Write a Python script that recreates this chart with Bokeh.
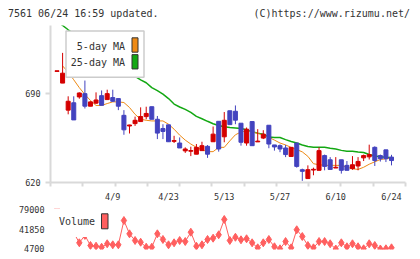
from bokeh.plotting import figure
from bokeh.layouts import column
from bokeh.models import Range1d, FixedTicker, ColumnDataSource, LinearAxis, Grid, Div
from bokeh.core.properties import value
from bokeh.embed import file_html
from bokeh.resources import INLINE

nan = float("nan")

header_left = "7561 06/24 16:59 updated."
header_right = "(C)https://www.rizumu.net/"
tick_index = [10, 20, 30, 40, 50, 60]
tick_labels = ["4/9", "4/23", "5/13", "5/27", "6/10", "6/24"]
price_ticks = [620, 690]
volume_ticks = [4700, 41850, 79000]
legend_labels = ["5-day MA", "25-day MA", "Volume"]

opens = [707.5, 698.3, 677.0, 682.8, 687.4, 690.0, 680.1, 682.5, 688.4, 685.3,
         686.9, 686.1, 672.9, 664.5, 666.4, 668.0, 671.9, 679.7, 669.8, 662.5,
         665.4, 652.4, 651.1, 644.9, 644.6, 642.3, 645.1, 648.5, 652.1, 668.2,
         656.0, 676.5, 676.1, 666.7, 651.1, 668.0, 652.0, 655.0, 665.1, 649.6,
         649.0, 647.2, 640.5, 651.1, 630.1, 623.1, 629.8, 629.6, 641.2, 637.9,
         631.4, 637.9, 633.5, 630.9, 633.0, 639.4, 640.2, 647.7, 641.2, 645.7,
         640.0]
closes = [708.0, 706.1, 684.0, 669.3, 690.5, 680.1, 683.5, 685.0, 680.8, 690.0,
          684.0, 680.1, 661.5, 665.3, 669.0, 672.0, 674.4, 669.8, 658.9, 660.2,
          652.1, 653.0, 647.2, 646.4, 645.2, 647.7, 649.0, 642.3, 658.1, 646.4,
          669.0, 665.6, 669.1, 651.7, 662.0, 649.0, 652.6, 658.1, 650.3, 648.0,
          646.4, 642.0, 647.7, 632.7, 628.8, 630.1, 630.4, 645.1, 632.7, 630.3,
          632.0, 629.6, 629.6, 634.0, 636.6, 641.2, 642.0, 637.3, 638.7, 638.7,
          637.3]
highs = [708.0, 722.1, 687.9, 687.9, 691.0, 700.3, 684.0, 691.0, 692.5, 693.1,
         693.1, 686.1, 677.0, 665.5, 671.9, 679.2, 679.7, 679.7, 672.4, 665.9,
         665.4, 656.8, 655.5, 647.7, 648.2, 650.3, 652.1, 649.5, 664.1, 668.2,
         675.5, 676.5, 680.7, 666.7, 663.3, 668.0, 662.0, 661.2, 665.1, 649.6,
         650.0, 649.6, 647.7, 651.1, 630.9, 633.5, 631.7, 647.7, 642.0, 640.0,
         640.0, 637.9, 636.9, 640.8, 640.0, 642.0, 649.8, 648.5, 642.0, 645.7,
         641.8]
lows = [707.5, 698.3, 673.7, 669.3, 686.0, 678.3, 680.1, 682.0, 680.8, 685.3,
        683.5, 677.0, 657.6, 658.6, 664.6, 668.0, 669.8, 669.8, 654.2, 654.2,
        652.1, 651.1, 647.2, 643.3, 640.8, 642.3, 645.1, 639.4, 652.1, 644.3,
        651.7, 665.6, 665.9, 649.0, 649.0, 649.0, 652.0, 654.2, 647.0, 645.1,
        643.9, 640.0, 640.5, 631.7, 621.3, 623.1, 625.7, 629.6, 629.6, 630.3,
        631.4, 627.0, 629.6, 630.0, 629.6, 636.9, 638.1, 633.0, 636.5, 636.1,
        633.5]
ma5 = [nan, 711.8, 707.0, 700.9, 694.7, 689.3, 684.6, 680.7, 680.7, 682.2,
       683.5, 683.5, 683.0, 679.1, 673.7, 669.8, 669.0, 668.5, 668.5, 668.5,
       665.9, 662.0, 657.3, 653.4, 650.3, 647.7, 645.7, 644.3, 644.3, 647.7,
       647.7, 652.8, 657.6, 659.8, 660.7, 660.0, 658.6, 657.5, 655.6, 653.4,
       651.1, 649.6, 647.6, 646.0, 644.1, 640.6, 634.8, 634.0, 633.5, 633.5,
       633.5, 633.5, 632.0, 630.9, 630.3, 632.0, 634.4, 636.3, 638.1, 638.7,
       639.4]
ma25 = [747.0, 743.7, 740.3, 737.0, 733.6, 730.5, 727.2, 724.0, 720.6, 717.4,
        714.0, 710.8, 708.0, 705.6, 703.6, 700.9, 698.6, 694.7, 692.3, 689.6,
        686.1, 681.8, 679.5, 677.6, 675.2, 672.1, 670.2, 668.2, 666.3, 664.9,
        663.9, 663.3, 663.0, 662.6, 661.6, 659.9, 658.9, 658.1, 655.8, 655.5,
        655.5, 653.8, 652.3, 651.1, 649.6, 648.4, 647.8, 647.8, 647.8, 647.0,
        646.4, 645.3, 644.7, 644.7, 644.1, 643.6, 642.0, 640.8, 640.2, 639.8,
        639.4]
volume = [79000, 62000, 48000, 35000, 16200, 30000, 11200, 9900, 8000, 14400,
          12500, 12500, 57600, 32900, 20500, 17300, 8000, 8000, 32900, 22400,
          12500, 16200, 20500, 18600, 35900, 9900, 12500, 22400, 24800, 31100,
          59500, 20500, 26500, 21800, 23700, 16200, 6900, 16200, 22400, 8800,
          5100, 18600, 6900, 40400, 27900, 11200, 6900, 18600, 18600, 14400,
          4700, 16200, 8800, 14400, 8800, 5100, 14400, 11200, 4700, 5100,
          6900]

RED = "#d40000"
BLUE = "#4343bf"
ORANGE = "#ee8a15"
GREEN = "#13a813"
VOLC = "#ff5f5f"
AXC = "#d9d9d9"
TXT = "#333333"
MONO = "DejaVu Sans Mono"

n = len(closes)
idx = list(range(n))
colors = [RED if c >= o else BLUE for o, c in zip(opens, closes)]
src = ColumnDataSource(dict(
    x=idx, top=[max(o, c) for o, c in zip(opens, closes)],
    bottom=[min(o, c) for o, c in zip(opens, closes)],
    high=highs, low=lows, color=colors, ma5=ma5, ma25=ma25, vol=volume))

XR = Range1d(-1.17, 62.51)
YR = Range1d(620, 743.67)
VR = Range1d(3770, 79930)


def fx(px):
    return XR.start + (px - 50) * (XR.end - XR.start) / 355.0


def fy(py):
    return YR.start + (184 - py) * (YR.end - YR.start) / 159.0


def vy(py):
    return VR.start + (249 - py) * (VR.end - VR.start) / 41.0


def strip(fig):
    fig.center = [c for c in fig.center if not isinstance(c, Grid)]
    fig.outline_line_color = None
    fig.background_fill_color = "white"
    fig.border_fill_color = "white"


# header
header_html = (
    '<div style="display:flex;justify-content:space-between;box-sizing:border-box;'
    'width:402px;height:25px;margin:0 0 0 8px;padding:0;line-height:28px;'
    "font-family:'DejaVu Sans Mono',monospace;font-size:10px;color:%s;white-space:pre;\">"
    '<span>%s</span><span>%s</span></div>' % (TXT, header_left, header_right))
h = Div(text=header_html, width=420, height=25, margin=(0, 0, 0, 0))

# price chart
p = figure(width=420, height=179, x_range=XR, y_range=YR, output_backend="svg",
           toolbar_location=None, min_border_left=50, min_border_right=15,
           min_border_top=0, min_border_bottom=20,
           x_axis_location=None, y_axis_location=None)
strip(p)

minor = [XR.start + k * (XR.end - XR.start) / 11.0 for k in range(12)]
xaxis = LinearAxis(ticker=FixedTicker(ticks=tick_index, minor_ticks=minor),
                   major_label_overrides={t: l for t, l in zip(tick_index, tick_labels)},
                   axis_line_color=AXC, axis_line_width=2,
                   major_tick_line_color=None, major_tick_out=4, major_tick_in=0,
                   minor_tick_line_color=AXC, minor_tick_line_width=2,
                   minor_tick_out=4, minor_tick_in=0,
                   major_label_text_font=MONO, major_label_text_font_size="8.5px",
                   major_label_text_color=TXT, major_label_standoff=5)
p.add_layout(xaxis, "below")
yaxis = LinearAxis(ticker=FixedTicker(ticks=price_ticks),
                   axis_line_color=AXC, axis_line_width=2,
                   major_tick_line_color=AXC, major_tick_line_width=2,
                   major_tick_out=5, major_tick_in=0, minor_tick_line_color=None,
                   major_label_text_font=MONO, major_label_text_font_size="8.5px",
                   major_label_text_color=TXT, major_label_standoff=5)
p.add_layout(yaxis, "left")

p.line("x", "ma25", source=src, line_color=GREEN, line_width=1.5)
p.line("x", "ma5", source=src, line_color=ORANGE, line_width=1)
p.segment(x0="x", y0="low", x1="x", y1="high", source=src, line_color="color", line_width=1)
p.vbar(x="x", width=0.72, top="top", bottom="bottom", source=src,
       fill_color="color", line_color="color", line_width=1)

# price legend
p.quad(left=[fx(65.5)], right=[fx(143.5)], top=[fy(30.5)], bottom=[fy(77.5)],
       fill_color="white", line_color="#cccccc", line_width=1.5)
p.text(x=[fx(124.5), fx(124.5)], y=[fy(46), fy(62.5)], text=legend_labels[:2],
       text_font=value(MONO), text_font_size="10px", text_align="right",
       text_baseline="middle", text_color=TXT)
p.quad(left=[fx(131.5)] * 2, right=[fx(137.5)] * 2, top=[fy(37.5), fy(54.5)],
       bottom=[fy(52), fy(69)], fill_color=[ORANGE, GREEN], line_color=TXT, line_width=1)

# volume chart
v = figure(width=420, height=55, x_range=XR, y_range=VR, output_backend="svg",
           toolbar_location=None, min_border_left=50, min_border_right=15,
           min_border_top=4, min_border_bottom=10,
           x_axis_location=None, y_axis_location=None)
strip(v)
vaxis = LinearAxis(ticker=FixedTicker(ticks=volume_ticks),
                   axis_line_color=None, major_tick_line_color=None,
                   minor_tick_line_color=None, major_tick_out=0, major_tick_in=0,
                   major_label_text_font=MONO, major_label_text_font_size="8.5px",
                   major_label_text_color=TXT, major_label_standoff=6)
v.add_layout(vaxis, "left")
v.line("x", "vol", source=src, line_color=VOLC, line_width=1)
v.scatter("x", "vol", source=src, marker="diamond", size=8, fill_color=VOLC,
          line_color=VOLC)
v.quad(left=[fx(51)], right=[fx(112)], top=[vy(206)], bottom=[vy(236.5)],
       fill_color="white", line_color=None)
v.text(x=[fx(94.5)], y=[vy(221)], text=[legend_labels[2]], text_font=value(MONO),
       text_font_size="10px", text_align="right", text_baseline="middle", text_color=TXT)
v.quad(left=[fx(101)], right=[fx(107.5)], top=[vy(213.3)], bottom=[vy(228.3)],
       fill_color=VOLC, line_color=TXT, line_width=1)

layout = column(h, p, v, spacing=0)
open("out.html", "w").write(file_html(layout, INLINE))
